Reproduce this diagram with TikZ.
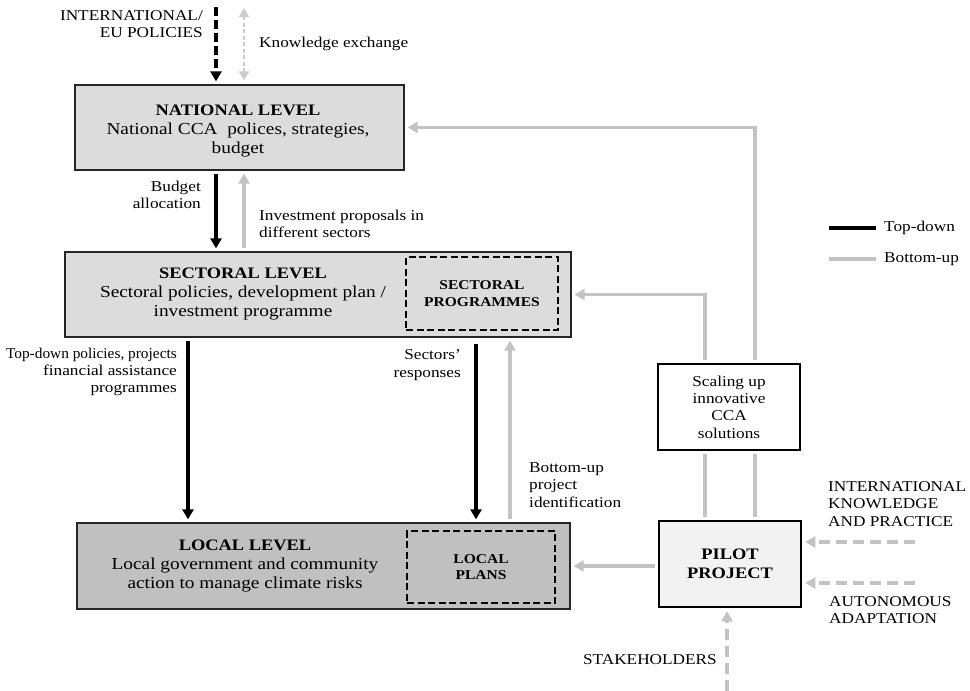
\documentclass[tikz,border=0pt]{standalone}
\usepackage{fontspec}
\setmainfont{Liberation Serif}[FakeStretch=1.15]
\usetikzlibrary{arrows.meta,calc}
\definecolor{bugray}{HTML}{C3C3C3}
\definecolor{natfill}{HTML}{DCDCDC}
\definecolor{locfill}{HTML}{C0C0C0}
\definecolor{pilotfill}{HTML}{F2F2F2}
\newcommand{\lvltitle}[1]{{\fontsize{16}{19}\selectfont\bfseries #1}}
\tikzset{
  lvlbox/.style={draw=black!85, line width=1.3pt, inner sep=0pt},
  innerdash/.style={draw=black, line width=2.2pt, dash pattern=on 7pt off 3.5pt, inner sep=0pt, align=center, font=\fontsize{13.5}{16.5}\selectfont\bfseries},
  boxtext/.style={align=center, font=\fontsize{16.8}{19}\selectfont, inner sep=0pt},
  lbl/.style={font=\fontsize{15}{17.3}\selectfont, inner sep=0pt},
  tip/.style={-{Triangle[width=11pt,length=10pt]}},
  tdarrow/.style={tip, draw=black, line width=3.8pt, shorten >=3pt, shorten <=3pt},
  buarrow/.style={tip, draw=bugray, line width=3.6pt, shorten >=3pt, shorten <=3pt},
  buline/.style={draw=bugray, line width=3.6pt},
  budash/.style={buarrow, dash pattern=on 11pt off 6pt},
}
\begin{document}
\begin{tikzpicture}[x=1pt,y=-1pt]
\useasboundingbox (0,0) rectangle (970,691);
% boxes
\node[lvlbox, fill=natfill, minimum width=329pt, minimum height=85pt] (national) at (239.5,127.5) {};
\node[boxtext] (nattext) at (238,131) {\lvltitle{NATIONAL LEVEL}\\National CCA\ \ polices, strategies,\\budget};
\node[lvlbox, fill=natfill, minimum width=506pt, minimum height=85pt] (sectoral) at (318,294.5) {};
\node[boxtext] (sectext) at (243,294) {\lvltitle{SECTORAL LEVEL}\\Sectoral policies, development plan /\\investment programme};
\node[innerdash, minimum width=152pt, minimum height=73pt] (secprog) at (482,293.5) {SECTORAL\\PROGRAMMES};
\node[lvlbox, fill=locfill, minimum width=493pt, minimum height=86pt] (local) at (323.5,566) {};
\node[boxtext] (loctext) at (245,566) {\lvltitle{LOCAL LEVEL}\\Local government and community\\action to manage climate risks};
\node[innerdash, minimum width=148pt, minimum height=72pt] (locplans) at (481,567) {LOCAL\\PLANS};
\node[draw=black, line width=1.8pt, minimum width=142pt, minimum height=86pt, align=center, inner sep=0pt,
      font=\fontsize{15}{17.3}\selectfont] (scaling) at (729,407) {Scaling up\\innovative\\CCA\\solutions};
\node[draw=black, line width=2.6pt, fill=pilotfill, minimum width=142pt, minimum height=86pt, align=center, inner sep=0pt,
      font=\fontsize{16}{19.5}\selectfont\bfseries] (pilot) at (730,564) {PILOT\\PROJECT};
% labels
\node[lbl, align=right, anchor=east] (intl) at (203,24) {INTERNATIONAL/\\EU POLICIES};
\node[lbl, anchor=west] (kxlbl) at (259,44) {Knowledge exchange};
\node[lbl, align=right, anchor=east] (budget) at (201,195) {Budget\\allocation};
\node[lbl, align=left, anchor=west] (invest) at (259,224) {Investment proposals in\\different sectors};
\node[lbl, align=right, anchor=east] (tdlbl) at (177,372) {\scalebox{0.89}[1]{Top-down policies, projects}\\financial assistance\\programmes};
\node[lbl, align=right, anchor=east] (resp) at (461,365) {Sectors'\\responses};
\node[lbl, align=left, anchor=west] (bulbl) at (529,485) {Bottom-up\\project\\identification};
\node[lbl, align=left, anchor=west] (iklbl) at (828,504) {INTERNATIONAL\\KNOWLEDGE\\AND PRACTICE};
\node[lbl, align=left, anchor=west] (aalbl) at (829,610) {AUTONOMOUS\\ADAPTATION};
\node[lbl, anchor=east] (stlbl) at (717,660) {STAKEHOLDERS};
% legend
\coordinate (lg1a) at (829,228); \coordinate (lg1b) at (876,228);
\coordinate (lg2a) at (829,259); \coordinate (lg2b) at (876,259);
\draw[black, line width=3.8pt] (lg1a) -- (lg1b);
\draw[bugray, line width=3.6pt] (lg2a) -- (lg2b);
\node[lbl, anchor=west] (lgtd) at (884,228) {Top-down};
\node[lbl, anchor=west] (lgbu) at (884,259) {Bottom-up};
% coordinates for arrows
\coordinate (intlsrc) at (216,7);
\coordinate (kxsrc) at (244,8);
\coordinate (tdx) at (188,0);
\coordinate (srx) at (476,0);
\coordinate (bux) at (510,0);
\coordinate (ra) at (705,0);
\coordinate (rb) at (755,0);
\coordinate (iksrc) at (915,542);
\coordinate (aasrc) at (915,583);
\coordinate (stsrc) at (727,691);
% top arrows
\draw[tdarrow, dash pattern=on 9pt off 4pt, shorten <=0pt] (intlsrc) -- (intlsrc |- national.north);
\draw[{Triangle[width=10pt,length=9pt]}-{Triangle[width=10pt,length=9pt]}, draw=bugray!85, line width=2.8pt,
      dash pattern=on 4pt off 2.5pt, shorten >=4pt] (kxsrc) -- (kxsrc |- national.north);
% between levels
\draw[tdarrow] (national.south -| intlsrc) -- (sectoral.north -| intlsrc);
\draw[buarrow] (sectoral.north -| kxsrc) -- (national.south -| kxsrc);
\draw[tdarrow] (sectoral.south -| tdx) -- (local.north -| tdx);
\draw[tdarrow, shorten <=6pt] (sectoral.south -| srx) -- (local.north -| srx);
\draw[buarrow] (local.north -| bux) -- (sectoral.south -| bux);
% right side
\draw[buline, shorten >=3pt, shorten <=3pt] (pilot.north -| ra) -- (scaling.south -| ra);
\draw[buline, shorten >=3pt, shorten <=3pt] (pilot.north -| rb) -- (scaling.south -| rb);
\draw[buarrow] (scaling.north -| ra) |- (sectoral.east);
\draw[buarrow] (scaling.north -| rb) |- (national.east);
\draw[buarrow] (local.east -| pilot.west) -- (local.east);
% external inputs
\draw[budash, shorten <=0pt] (iksrc) -- (iksrc -| pilot.east);
\draw[budash, shorten <=0pt] (aasrc) -- (aasrc -| pilot.east);
\draw[budash, shorten <=0pt] (stsrc) -- (stsrc |- pilot.south);
\end{tikzpicture}
\end{document}
